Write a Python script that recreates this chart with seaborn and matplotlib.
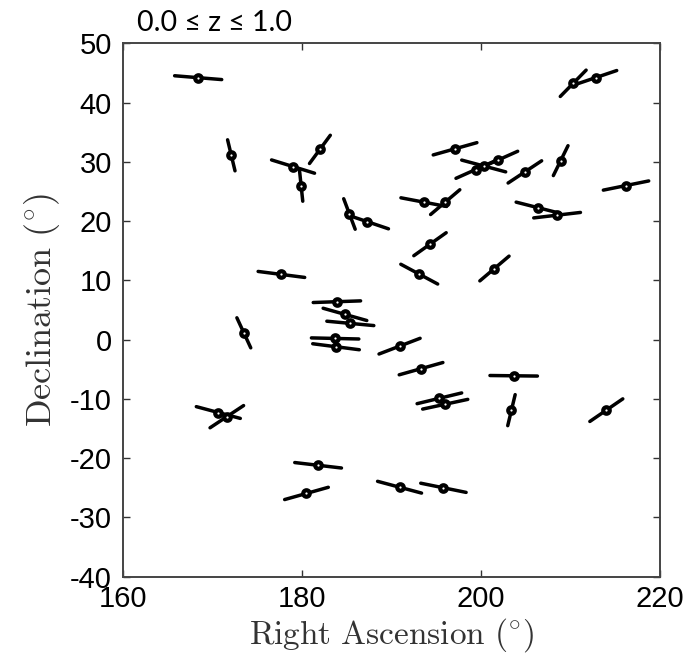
import numpy as np
import pandas as pd
import matplotlib
matplotlib.use("Agg")
import matplotlib.pyplot as plt
import seaborn as sns

# Source positions (degrees) and polarization position angles (degrees, measured in the RA-Dec plane)
ra = [168.4, 172.1, 182.0, 179.0, 179.9, 185.3, 187.3, 210.3, 212.8, 197.1,
      199.4, 200.3, 201.9, 204.9, 208.9, 216.2, 193.6, 196.0, 206.4, 208.5,
      177.7, 183.9, 184.8, 185.4, 173.5, 183.7, 183.8, 190.9, 194.3, 193.1,
      201.5, 193.3, 203.65, 195.35, 196.0, 203.4, 214.0, 170.65, 171.6, 181.8,
      180.5, 190.9, 195.8]
dec = [44.2, 31.1, 32.1, 29.2, 26.0, 21.2, 19.9, 43.25, 44.2, 32.2,
       28.7, 29.3, 30.3, 28.3, 30.2, 26.0, 23.2, 23.2, 22.25, 21.0,
       11.0, 6.4, 4.26, 2.74, 1.15, 0.2, -1.2, -1.1, 16.1, 11.05,
       12.0, -4.9, -6.1, -9.9, -10.9, -11.9, -11.9, -12.3, -13.0, -21.2,
       -25.95, -24.9, -25.0]
angle = [-7, 99, 64, -25, -86, -76, -27, 57, 27, 23,
         34, -22, 34, 45, 72, 17, -16, 52, -21, 10,
         -11, 3, -23, -8, -73, -2, -11, 30, 47, -39,
         52, 23, -1, 20, 18, 81, 46, -22, 45, -10,
         23, -22, -17]
seg_length = 5.3  # full length of each polarization bar, in degrees

x_ticks = [160, 180, 200, 220]
y_ticks = list(range(-40, 51, 10))
title_text = "0.0 \u2264 z \u2264 1.0"

sns.set_theme(style="ticks")
plt.rcParams["font.family"] = ["Liberation Sans", "DejaVu Sans"]
plt.rcParams["mathtext.fontset"] = "cm"
plt.rcParams["axes.unicode_minus"] = False

pts = pd.DataFrame({"ra": ra, "dec": dec, "angle": angle})
theta = np.deg2rad(pts["angle"].to_numpy())
half = seg_length / 2
segs = pd.concat([
    pd.DataFrame({"id": pts.index, "ra": pts["ra"] - half * np.cos(theta),
                  "dec": pts["dec"] - half * np.sin(theta), "end": 0}),
    pd.DataFrame({"id": pts.index, "ra": pts["ra"] + half * np.cos(theta),
                  "dec": pts["dec"] + half * np.sin(theta), "end": 1}),
]).sort_values(["id", "end"]).reset_index(drop=True)

fig = plt.figure(figsize=(7.0, 6.54), dpi=100)
ax = fig.add_axes([0.1757, 0.1182, 0.7672, 0.8156])

sns.lineplot(data=segs, x="ra", y="dec", units="id", estimator=None, sort=False,
             color="black", linewidth=2.5, ax=ax, legend=False, zorder=2)
sns.scatterplot(data=pts, x="ra", y="dec", marker="o", s=22, facecolor="white",
                edgecolor="black", linewidth=3.0, ax=ax, legend=False, zorder=3)

ax.set_xlim(160, 220)
ax.set_ylim(-40, 50)
ax.set_xticks(x_ticks)
ax.set_yticks(y_ticks)
ax.tick_params(direction="in", length=5, width=1.0, labelsize=21,
               top=True, right=True, colors="#333333", labelcolor="black")
ax.tick_params(axis="x", pad=6)
ax.tick_params(axis="y", pad=8)
for sp in ax.spines.values():
    sp.set_visible(True)
    sp.set_color("#444444")
    sp.set_linewidth(1.4)

ax.set_xlabel(r"$\mathrm{Right\ Ascension\ (^{\circ})}$", fontsize=24, color="#333333", labelpad=2)
ax.set_ylabel(r"$\mathrm{Declination\ (^{\circ})}$", fontsize=26, color="#333333", labelpad=6)

fig.text(137 / 700, 1 - 31 / 654, title_text, fontsize=20.5, family=["Lato", "DejaVu Sans"],
         ha="left", va="baseline", color="black")

fig.savefig("out.png", dpi=100)
